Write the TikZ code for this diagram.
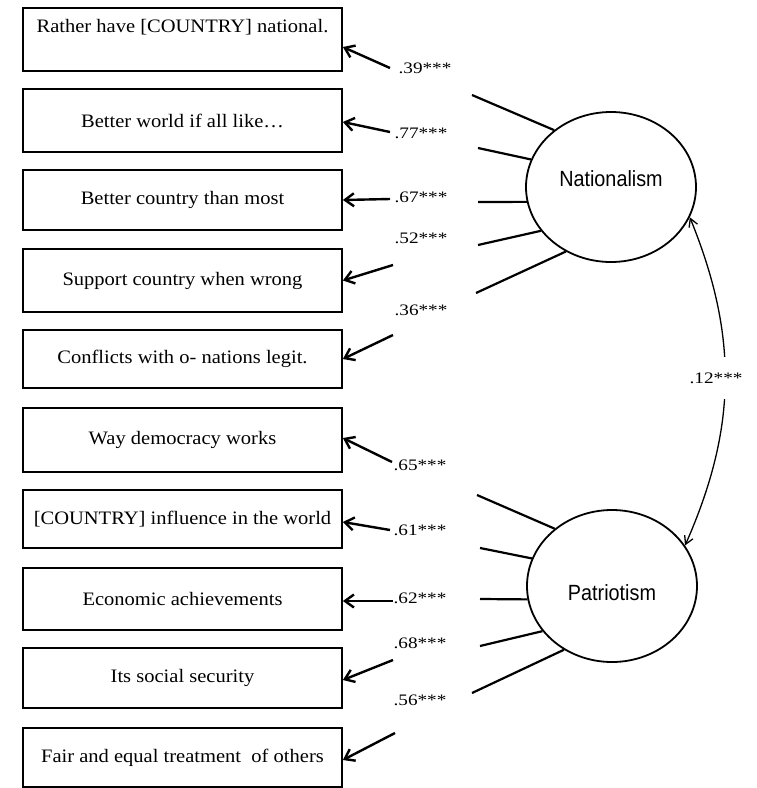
\documentclass[tikz,border=0pt]{standalone}
\usepackage{fontspec}
\setmainfont{Liberation Serif}[FakeStretch=1.08]
\newfontfamily\latentfont{Liberation Sans}[FakeStretch=0.9]
\newfontfamily\coeffont{Liberation Serif}[FakeStretch=1.2]
\usetikzlibrary{arrows.meta,shapes.geometric}
\begin{document}
\begin{tikzpicture}[x=1pt,y=-1pt,
  item/.style={draw, line width=1.8pt, rectangle, minimum width=319pt, inner sep=0pt,
    font=\fontsize{19}{22}\selectfont},
  latent/.style={draw, ellipse, line width=1.8pt, minimum width=170pt, inner sep=0pt,
    font=\latentfont\fontsize{22}{24}\selectfont},
  coef/.style={font=\coeffont\fontsize{16}{18}\selectfont, inner sep=1pt},
  load/.style={line width=2.2pt},
  loadarrow/.style={line width=2.4pt, -{Straight Barb[length=9pt,width=13pt]}},
  corr/.style={line width=1.3pt, {Straight Barb[length=8pt,width=9pt]}-{Straight Barb[length=8pt,width=9pt]}}
]
\useasboundingbox[fill=white] (0,0) rectangle (757,788);

% indicator boxes
\node[item, minimum height=63pt] (b1) at (182.5,39.5) {\raisebox{7.5pt}[0pt][0pt]{Rather have [COUNTRY] national.}};
\node[item, minimum height=63pt] (b2) at (182.5,120.5) {Better world if all like\dots};
\node[item, minimum height=60pt] (b3) at (182.5,200) {Better country than most};
\node[item, minimum height=63pt] (b4) at (182.5,280.5) {Support country when wrong};
\node[item, minimum height=58pt] (b5) at (182.5,359) {Conflicts with o- nations legit.};
\node[item, minimum height=64pt] (b6) at (182.5,440) {Way democracy works};
\node[item, minimum height=58pt] (b7) at (182.5,519) {[COUNTRY] influence in the world};
\node[item, minimum height=62pt] (b8) at (182.5,599) {Economic achievements};
\node[item, minimum height=60pt] (b9) at (182.5,678) {Its social security};
\node[item, minimum height=59pt] (b10) at (182.5,757.5) {Fair and equal treatment\ \ of others};

% latent variables
\node[latent, minimum height=150pt] (nat) at (611,187) {\raisebox{1pt}[0pt][0pt]{Nationalism}};
\node[latent, minimum height=152pt] (pat) at (612,586) {\raisebox{-14pt}[0pt][0pt]{Patriotism}};

% line ends near the ellipses
\coordinate (n1) at (472,95);
\coordinate (n2) at (478,148);
\coordinate (n3) at (478,202);
\coordinate (n4) at (478,245);
\coordinate (n5) at (476,293);
\coordinate (p1) at (477,495);
\coordinate (p2) at (480,548);
\coordinate (p3) at (480,599);
\coordinate (p4) at (480,646);
\coordinate (p5) at (472,693);

% arrow tails near the boxes
\coordinate (a1) at (390,68);
\coordinate (a2) at (390,132);
\coordinate (a3) at (390,199);
\coordinate (a4) at (393,265);
\coordinate (a5) at (393,335);
\coordinate (a6) at (392,462);
\coordinate (a7) at (390,530);
\coordinate (a8) at (393,601);
\coordinate (a9) at (393,660);
\coordinate (a10) at (395,733);

% lines from ellipses
\draw[load] (nat.135) -- (n1);
\draw[load] (nat.161) -- (n2);
\draw[load] (nat.190) -- (n3);
\draw[load] (nat.212) -- (n4);
\draw[load] (nat.235) -- (n5);
\draw[load] (pat.135) -- (p1);
\draw[load] (pat.161) -- (p2);
\draw[load] (pat.189) -- (p3);
\draw[load] (pat.213) -- (p4);
\draw[load] (pat.233) -- (p5);

% arrows into boxes
\draw[loadarrow] (a1) -- ([yshift=-7.5pt]b1.east);
\draw[loadarrow] (a2) -- ([yshift=-1.5pt]b2.east);
\draw[loadarrow] (a3) -- (b3.east);
\draw[loadarrow] (a4) -- (b4.east);
\draw[loadarrow] (a5) -- (b5.east);
\draw[loadarrow] (a6) -- ([yshift=2pt]b6.east);
\draw[loadarrow] (a7) -- ([yshift=-3pt]b7.east);
\draw[loadarrow] (a8) -- ([yshift=-2pt]b8.east);
\draw[loadarrow] (a9) -- ([yshift=-2pt]b9.east);
\draw[loadarrow] (a10) -- ([yshift=-2.5pt]b10.east);

% loadings
\node[coef] (c1) at (425,68) {.39***};
\node[coef] (c2) at (421,133) {.77***};
\node[coef] (c3) at (421,197) {.67***};
\node[coef] (c4) at (421,238) {.52***};
\node[coef] (c5) at (421,310) {.36***};
\node[coef] (c6) at (420,465) {.65***};
\node[coef] (c7) at (420,530) {.61***};
\node[coef] (c8) at (420,598) {.62***};
\node[coef] (c9) at (420,643) {.68***};
\node[coef] (c10) at (420,700) {.56***};

% correlation
\draw[corr] (nat.-21) to[bend left=23]
  node[coef, fill=white, inner ysep=16pt, inner xsep=2pt, xshift=-9pt, yshift=4pt] (c11) {.12***} (pat.29);
\end{tikzpicture}
\end{document}
